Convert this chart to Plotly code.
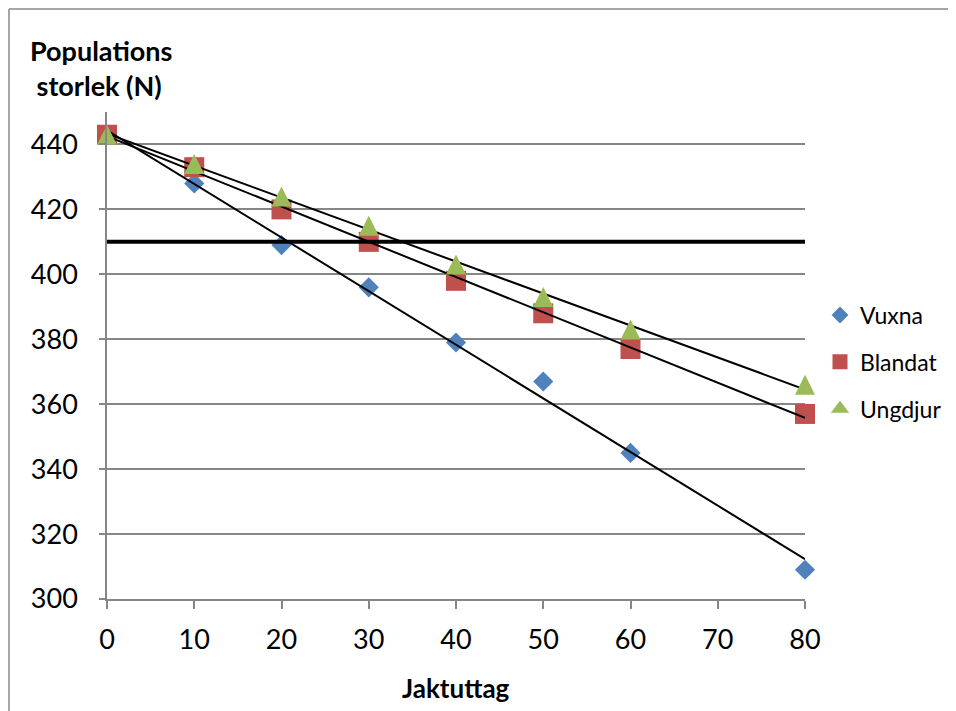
import numpy as np
import plotly.graph_objects as go

jaktuttag = [0, 10, 20, 30, 40, 50, 60, 80]
vuxna = [443, 428, 409, 396, 379, 367, 345, 309]
blandat = [443, 433, 420, 410, 398, 388, 377, 357]
ungdjur = [443, 434, 424, 415, 403, 393, 383, 366]
grans = 410
x_ticks = [0, 10, 20, 30, 40, 50, 60, 70, 80]
y_ticks = [300, 320, 340, 360, 380, 400, 420, 440]

FONT = "Lato"
OFF = 8  # browser body margin
W, H = 956, 711
L, R, T, B = 107 - OFF, 956 - 805 + OFF, 112 - OFF, 711 - 599 + OFF
pw, ph = W - L - R, H - T - B
YMIN, YMAX = 300, 450

TRI = 20  # triangle box size in px (arrow-up symbol: apex at the point)
shift = (TRI / 2) * (YMAX - YMIN) / ph  # half the box, in data units

series = [
    ("Vuxna", vuxna, "#4F81BD", "diamond", 15.5, "y", "diamond", 13),
    ("Blandat", blandat, "#C0504D", "square", 20, "y", "square", 15),
    ("Ungdjur", ungdjur, "#9BBB59", "arrow-up", TRI, "y2", "triangle-up", 16),
]

fig = go.Figure()

for name, vals, col, sym, sz, ya, lsym, lsz in series:
    fig.add_trace(go.Scatter(x=jaktuttag, y=vals, mode="markers", name=name, yaxis=ya,
                             marker=dict(symbol=sym, color=col, size=sz, line=dict(width=0)),
                             showlegend=False, cliponaxis=False))
# legend entries
for name, vals, col, sym, sz, ya, lsym, lsz in series:
    fig.add_trace(go.Scatter(x=[None], y=[None], mode="markers", name=name, legendgroup=name,
                             marker=dict(symbol=lsym, color=col, size=lsz, line=dict(width=0))))
# trendlines
for name, vals, col, sym, sz, ya, lsym, lsz in series:
    k, m = np.polyfit(jaktuttag, vals, 1)
    xs = [jaktuttag[0], jaktuttag[-1]]
    fig.add_trace(go.Scatter(x=xs, y=[k * v + m for v in xs], mode="lines",
                             line=dict(color="black", width=2), showlegend=False, hoverinfo="skip",
                             cliponaxis=False))
# horizontal reference line
fig.add_trace(go.Scatter(x=[jaktuttag[0], jaktuttag[-1]], y=[grans, grans], mode="lines",
                         line=dict(color="black", width=4), showlegend=False, hoverinfo="skip",
                         cliponaxis=False))


def px(xp):
    return (xp - OFF - L) / pw


def py(yp):
    return (H - B - (yp - OFF)) / ph


fig.update_layout(
    width=W, height=H,
    margin=dict(l=L, r=R, t=T, b=B),
    paper_bgcolor="white", plot_bgcolor="white",
    font=dict(family=FONT, color="black"),
    showlegend=True,
    legend=dict(x=px(820), y=py(362), xanchor="left", yanchor="middle",
                font=dict(size=23, family=FONT), tracegroupgap=14,
                itemsizing="trace", bgcolor="rgba(0,0,0,0)"),
    xaxis=dict(range=[0, 80], tickvals=x_ticks, showgrid=False, zeroline=False,
               showline=True, linecolor="#868686", linewidth=1.5,
               ticks="outside", ticklen=8, tickcolor="#868686", tickwidth=1.5,
               tickfont=dict(size=27, family=FONT), ticklabelstandoff=8),
    yaxis=dict(range=[YMIN, YMAX], tickvals=y_ticks, showgrid=True, gridcolor="#868686",
               gridwidth=1.5, zeroline=False, showline=True, linecolor="#868686",
               linewidth=1.5, ticks="outside", ticklen=6, tickcolor="#868686", tickwidth=1.5,
               tickfont=dict(size=27, family=FONT), ticklabelstandoff=16),
    yaxis2=dict(range=[YMIN - shift, YMAX - shift], overlaying="y", visible=False),
    annotations=[
        dict(text="<b>Populations</b><br><b> storlek (N)</b>", xref="paper", yref="paper",
             x=px(28), y=py(68), xanchor="left", yanchor="middle",
             align="left", showarrow=False, font=dict(size=27, family=FONT)),
        dict(text="<b>Jaktuttag</b>", xref="paper", yref="paper",
             x=px(456), y=py(688), xanchor="center", yanchor="middle",
             showarrow=False, font=dict(size=26, family=FONT)),
    ],
    shapes=[
        dict(type="line", xref="paper", yref="paper", x0=px(9), x1=px(9), y0=-1, y1=py(9),
             line=dict(color="#888888", width=1.5)),
        dict(type="line", xref="paper", yref="paper", x0=px(9), x1=2, y0=py(9), y1=py(9),
             line=dict(color="#888888", width=1.5)),
    ],
)

fig.write_html("out.html")
